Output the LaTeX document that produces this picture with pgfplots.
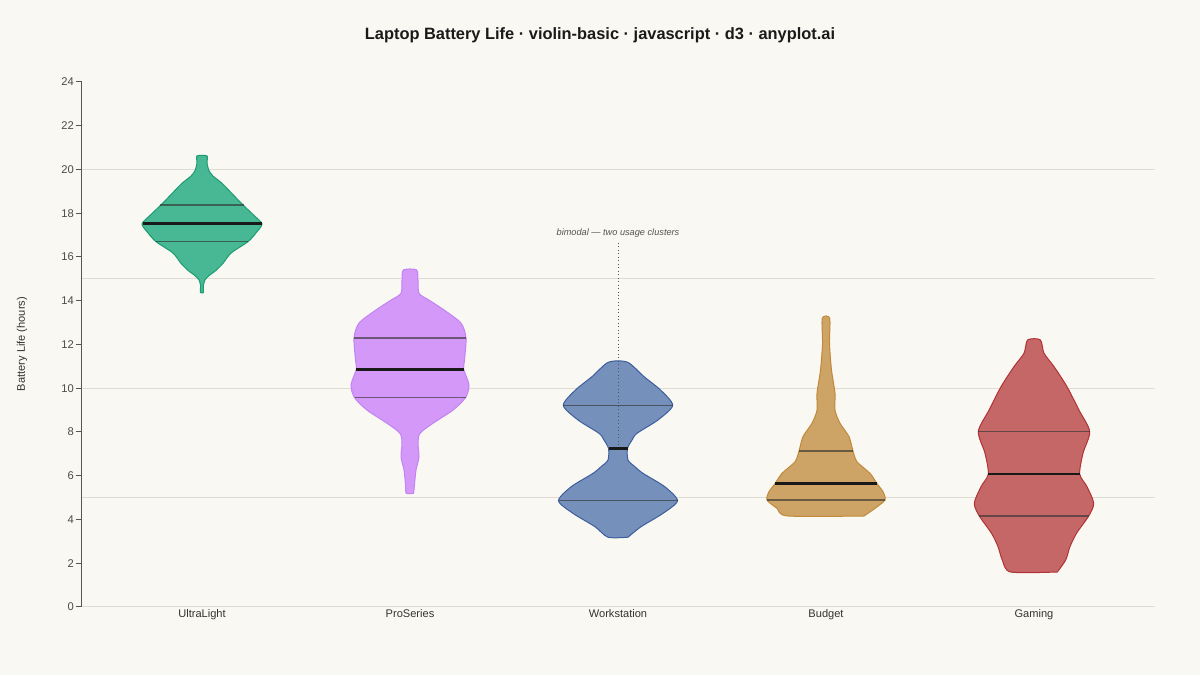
\documentclass[border=0pt]{standalone}
\usepackage{fontspec}
\setmainfont{Liberation Sans}
\usepackage{pgfplots}
\usepackage{pgfplotstable}
\pgfplotsset{compat=1.18}
\definecolor{bg}{HTML}{FAF8F2}
\definecolor{titlec}{HTML}{1A1A1A}
\definecolor{lblc}{HTML}{333333}
\definecolor{tickc}{HTML}{4A4A4A}
\definecolor{axisc}{HTML}{555555}
\definecolor{gridc}{HTML}{E0DCD3}
\definecolor{ulF}{HTML}{47B794}\definecolor{ulE}{HTML}{1B9C72}
\definecolor{psF}{HTML}{D498F8}\definecolor{psE}{HTML}{C184F2}
\definecolor{wsF}{HTML}{7690BC}\definecolor{wsE}{HTML}{3D5E9E}
\definecolor{buF}{HTML}{CEA366}\definecolor{buE}{HTML}{C08A3A}
\definecolor{gaF}{HTML}{C56767}\definecolor{gaE}{HTML}{B03236}

\pgfplotstableread{
y w
14.37 1.5
14.70 1.5
14.95 3
15.15 7
15.35 13
15.71 21
16.18 29
16.70 46
17.10 54
17.51 60
17.90 52
18.38 41
18.90 30
19.37 20
19.70 11
19.95 7
20.30 5
20.62 5
20.62 -5
20.30 -5
19.95 -7
19.70 -11
19.37 -20
18.90 -30
18.38 -41
17.90 -52
17.51 -60
17.10 -54
16.70 -46
16.18 -29
15.71 -21
15.35 -13
15.15 -7
14.95 -3
14.70 -1.5
14.37 -1.5
14.37 1.5
}\ultralight

\pgfplotstableread{
y w
5.20 3.7
5.60 4.5
6.26 6
6.87 9
7.48 8
7.94 10
8.40 23
9.00 43
9.57 55.5
10.15 59
10.87 53.7
11.29 54.5
12.30 56
12.98 51
13.58 34
14.03 19
14.34 9
14.95 8
15.41 6.5
15.41 -6.5
14.95 -8
14.34 -9
14.03 -19
13.58 -34
12.98 -51
12.30 -56
11.29 -54.5
10.87 -53.7
10.15 -59
9.57 -55.5
9.00 -43
8.40 -23
7.94 -10
7.48 -8
6.87 -9
6.26 -6
5.60 -4.5
5.20 -3.7
5.20 3.7
}\proseries

\pgfplotstableread{
y w
3.19 10
3.67 23
4.28 45
4.86 59.5
5.50 46.7
6.11 25
6.41 17
6.72 10
7.25 9.5
7.63 14
7.94 19
8.55 40
9.22 54.7
9.92 42.5
10.53 26
11.19 9.5
11.19 -9.5
10.53 -26
9.92 -42.5
9.22 -54.7
8.55 -40
7.94 -19
7.63 -14
7.25 -9.5
6.72 -10
6.41 -17
6.11 -25
5.50 -46.7
4.86 -59.5
4.28 -45
3.67 -23
3.19 -10
3.19 10
}\workstation

\pgfplotstableread{
y w
4.16 38
4.51 49
4.89 59
5.27 57
5.64 51
6.11 44
6.64 31
7.13 27
7.79 23
8.40 14
9.00 9
9.77 9
10.83 5.5
12.05 3.5
13.20 3.7
13.20 -3.7
12.05 -3.5
10.83 -5.5
9.77 -9
9.00 -9
8.40 -14
7.79 -23
7.13 -27
6.64 -31
6.11 -44
5.64 -51
5.27 -57
4.89 -59
4.51 -49
4.16 -38
4.16 38
}\budget

\pgfplotstableread{
y w
1.60 23.3
2.15 31.7
2.76 36
3.37 42.5
4.16 54.7
4.74 59.7
5.50 53
6.08 45.7
7.03 49
8.02 55.7
9.00 45
10.07 33
10.99 20
11.60 10
12.21 6.3
12.21 -6.3
11.60 -10
10.99 -20
10.07 -33
9.00 -45
8.02 -55.7
7.03 -49
6.08 -45.7
5.50 -53
4.74 -59.7
4.16 -54.7
3.37 -42.5
2.76 -36
2.15 -31.7
1.60 -23.3
1.60 23.3
}\gaming

\begin{document}
\begin{tikzpicture}
\fill[bg] (0,0) rectangle (900pt,506.25pt);
\node[font=\bfseries\fontsize{12.3}{15}\selectfont, text=titlec] at (450pt,480pt)
  {Laptop Battery Life · violin-basic · javascript · d3 · anyplot.ai};
\node[rotate=90, font=\fontsize{8.3}{10}\selectfont, text=lblc] at (16.5pt,248.25pt)
  {Battery Life (hours)};
\begin{axis}[
  at={(61.5pt,51pt)}, anchor=south west,
  scale only axis, width=804.75pt, height=393.75pt,
  xmin=82, xmax=1155, ymin=0, ymax=24,
  axis x line*=bottom, axis y line*=left,
  x axis line style={draw=gridc, line width=0.75pt},
  y axis line style={draw=axisc, line width=0.75pt},
  xtick={202,410,618,826,1034},
  xticklabels={UltraLight,ProSeries,Workstation,Budget,Gaming},
  xtick style={draw=none},
  ytick={0,2,...,24},
  ytick style={draw=axisc, line width=0.75pt},
  tick align=outside, major tick length=4.5pt,
  extra y ticks={5,10,15,20},
  extra y tick labels={},
  extra y tick style={grid=major, major tick length=0pt, tick style={draw=none}},
  major grid style={draw=gridc, line width=0.75pt},
  yticklabel style={font=\fontsize{8.4}{10}\selectfont, text=tickc, xshift=2pt},
  xticklabel style={font=\fontsize{8.3}{10}\selectfont, text=lblc, yshift=6pt},
  /pgf/number format/assume math mode=true,
]
% violins
\addplot[draw=ulE, fill=ulF, line width=0.75pt, smooth, tension=0.45] table[x expr=202+\thisrow{w}, y=y] {\ultralight};
\addplot[draw=psE, fill=psF, line width=0.75pt, smooth, tension=0.45] table[x expr=410+\thisrow{w}, y=y] {\proseries};
\addplot[draw=wsE, fill=wsF, line width=0.75pt, smooth, tension=0.45] table[x expr=618+\thisrow{w}, y=y] {\workstation};
\addplot[draw=buE, fill=buF, line width=0.75pt, smooth, tension=0.45] table[x expr=826+\thisrow{w}, y=y] {\budget};
\addplot[draw=gaE, fill=gaF, line width=0.75pt, smooth, tension=0.45] table[x expr=1034+\thisrow{w}, y=y] {\gaming};
% annotation line
\addplot[draw=axisc, line width=0.6pt, dotted] coordinates {(618,16.64) (618,7.27)};
% quartiles
\pgfplotsset{qline/.style={draw=black!80, draw opacity=0.65, line width=1.1pt}}
\addplot[qline] coordinates {(160,18.38) (244,18.38)};
\addplot[qline] coordinates {(156,16.70) (248,16.70)};
\addplot[qline] coordinates {(354,12.30) (466,12.30)};
\addplot[qline] coordinates {(354.5,9.57) (465.5,9.57)};
\addplot[qline] coordinates {(563.3,9.22) (672.7,9.22)};
\addplot[qline] coordinates {(558.5,4.86) (677.5,4.86)};
\addplot[qline] coordinates {(799,7.13) (853,7.13)};
\addplot[qline] coordinates {(767,4.89) (885,4.89)};
\addplot[qline] coordinates {(978.3,8.02) (1089.7,8.02)};
\addplot[qline] coordinates {(979.3,4.16) (1088.7,4.16)};
% medians
\pgfplotsset{mline/.style={draw=black!90, line width=2.2pt}}
\addplot[mline] coordinates {(142.5,17.51) (261.5,17.51)};
\addplot[mline] coordinates {(356.3,10.87) (463.7,10.87)};
\addplot[mline] coordinates {(608.5,7.25) (627.5,7.25)};
\addplot[mline] coordinates {(775,5.64) (877,5.64)};
\addplot[mline] coordinates {(988.3,6.08) (1079.7,6.08)};
\node[font=\itshape\fontsize{6.9}{8}\selectfont, text=axisc] at (axis cs:618,17.08) {bimodal — two usage clusters};
\end{axis}
\end{tikzpicture}
\end{document}
